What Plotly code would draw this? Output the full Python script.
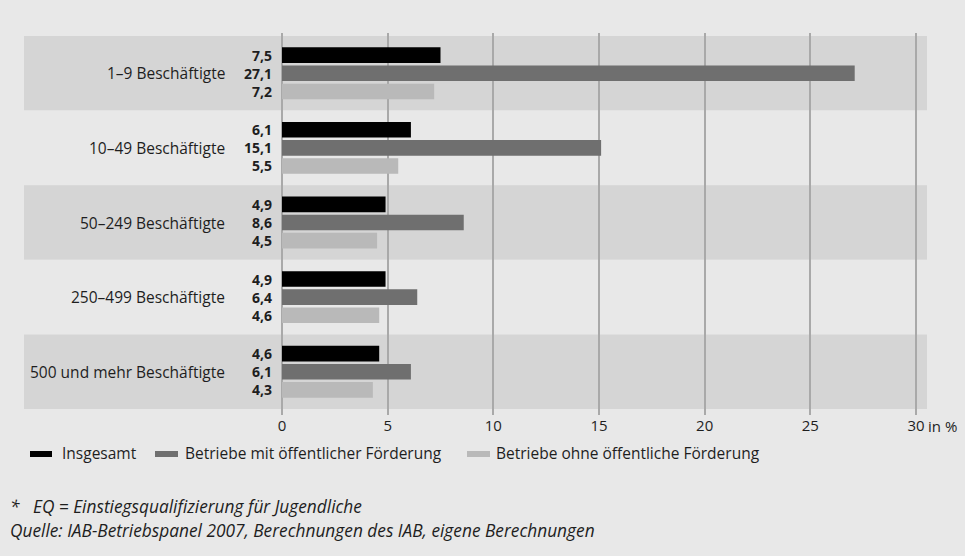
import plotly.graph_objects as go

# ---------------- data ----------------
categories = ["1–9 Beschäftigte", "10–49 Beschäftigte", "50–249 Beschäftigte",
              "250–499 Beschäftigte", "500 und mehr Beschäftigte"]
series_names = ["Insgesamt", "Betriebe mit öffentlicher Förderung",
                "Betriebe ohne öffentliche Förderung"]
insgesamt = [7.5, 6.1, 4.9, 4.9, 4.6]
mit_foerderung = [27.1, 15.1, 8.6, 6.4, 6.1]
ohne_foerderung = [7.2, 5.5, 4.5, 4.6, 4.3]
x_ticks = [0, 5, 10, 15, 20, 25, 30]
footnote = "*   EQ = Einstiegsqualifizierung für Jugendliche"
source = "Quelle: IAB-Betriebspanel 2007, Berechnungen des IAB, eigene Berechnungen"

series = [insgesamt, mit_foerderung, ohne_foerderung]
colors = ["#000000", "#6f6f6f", "#b9b9b9"]

FONT = "Open Sans"
TXT = "#1e1e1e"
BG = "#e8e8e8"
BAND = "#d5d5d5"

W, H = 965, 556
L, R, T, B = 24, 38, 33, 141
BARGAP, GROUPGAP = 0.27, 0.14

pos = list(range(len(categories)))
fig = go.Figure()
for name, vals, col in zip(series_names, series, colors):
    fig.add_trace(go.Bar(x=vals, y=pos, orientation="h", name=name,
                         marker=dict(color=col, line=dict(width=0)),
                         showlegend=False, hoverinfo="x"))

shapes = []
annotations = []
# alternating bands
for i in pos:
    shapes.append(dict(type="rect", xref="paper", yref="y", x0=0, x1=1,
                       y0=i - 0.5, y1=i + 0.5, layer="below",
                       fillcolor=BAND if i % 2 == 0 else BG, line=dict(width=0)))

def fmt(v):
    return f"{v:.1f}".replace(".", ",")

for i, cat in enumerate(categories):
    annotations.append(dict(xref="x", yref="y", x=0, y=i, text=cat,
                            xanchor="right", yanchor="middle", xshift=-55,
                            showarrow=False, font=dict(family=FONT, size=15.5, color=TXT)))
    stacked = "<br>".join("<b>" + fmt(vals[i]) + "</b>" for vals in series)
    annotations.append(dict(xref="x", yref="y", x=0, y=i, text=stacked,
                            xanchor="right", yanchor="middle", align="right",
                            xshift=-9, yshift=0, borderpad=0, showarrow=False,
                            font=dict(family=FONT, size=14, color=TXT)))

annotations.append(dict(xref="x", yref="paper", x=x_ticks[-1], y=0, text="in %",
                        xanchor="left", yanchor="top", xshift=10, yshift=1,
                        showarrow=False, font=dict(family=FONT, size=15, color=TXT)))

# custom legend (wide flat swatches)
plot_w = W - L - R
plot_h = H - T - B
def px(x):
    return (x - L) / plot_w
def py(y):
    return (H - B - y) / plot_h

legend_items = [(30, 52, 60), (155, 178, 183), (467, 490, 494)]
for (sx0, sx1, tx), name, col in zip(legend_items, series_names, colors):
    shapes.append(dict(type="rect", xref="paper", yref="paper",
                       x0=px(sx0), x1=px(sx1), y0=py(457), y1=py(451),
                       fillcolor=col, line=dict(width=0)))
    annotations.append(dict(xref="paper", yref="paper", x=px(tx), y=py(453),
                            text=name, xanchor="left", yanchor="middle",
                            showarrow=False, font=dict(family=FONT, size=15.5, color=TXT)))

for text, yy in [(footnote, 507), (source, 530)]:
    annotations.append(dict(xref="paper", yref="paper", x=px(8), y=py(yy),
                            text=text, xanchor="left", yanchor="middle",
                            showarrow=False,
                            font=dict(family=FONT, size=17.3, color=TXT, style="italic")))

x0_px, x30_px = 282, 916
ppu = (x30_px - x0_px) / 30
xmin = -(x0_px - L) / ppu
xmax = 30 + ((W - R) - x30_px) / ppu

fig.update_layout(
    width=W, height=H,
    margin=dict(l=L, r=R, t=T, b=B, pad=0),
    paper_bgcolor=BG, plot_bgcolor=BG,
    barmode="group", bargap=BARGAP, bargroupgap=GROUPGAP,
    font=dict(family=FONT, size=14, color=TXT),
    xaxis=dict(range=[xmin, xmax], tickvals=x_ticks, ticktext=[str(t) for t in x_ticks],
               showgrid=True, gridcolor="#a9a9a9", gridwidth=1.5, zeroline=False,
               showline=False, ticks="", tickfont=dict(family=FONT, size=15, color=TXT),
               fixedrange=True),
    yaxis=dict(range=[4.58, -0.54], showgrid=False, zeroline=False,
               showticklabels=False, showline=False, fixedrange=True),
    shapes=shapes,
    annotations=annotations,
)

fig.write_html("out.html", config={"displayModeBar": False},
               post_script="document.body.style.margin='0';document.body.style.overflow='hidden';")
